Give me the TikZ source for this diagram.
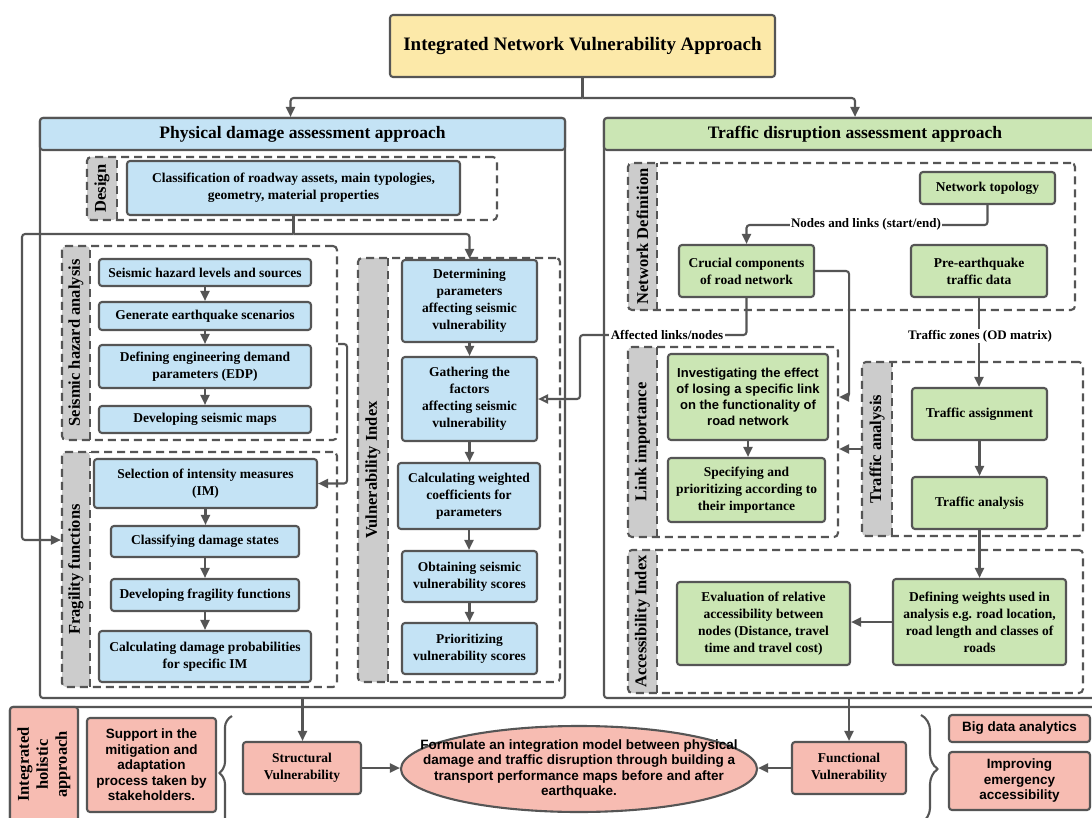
\documentclass[tikz,border=0pt]{standalone}
\usepackage{fontspec}
\setmainfont{Liberation Serif}
\setsansfont{Liberation Sans}
\usetikzlibrary{arrows.meta,positioning,decorations.pathreplacing,shapes.geometric}

\definecolor{linec}{HTML}{555555}
\definecolor{blueF}{HTML}{C4E3F5}
\definecolor{greenF}{HTML}{CBE6B4}
\definecolor{yellowF}{HTML}{FCE9A9}
\definecolor{pinkF}{HTML}{F7BCB2}
\definecolor{grayF}{HTML}{CCCCCC}

\newcommand{\titlefont}{\fontsize{19}{22}\selectfont\bfseries}
\newcommand{\headfont}{\fontsize{17.5}{20}\selectfont\bfseries}
\newcommand{\boxfont}{\fontsize{13.5}{17}\selectfont\bfseries}
\newcommand{\boxsans}{\sffamily\fontsize{13}{16}\selectfont\bfseries}
\newcommand{\botsans}{\sffamily\fontsize{13.5}{15.5}\selectfont\bfseries}
\newcommand{\stripfont}{\fontsize{16.5}{19}\selectfont\bfseries}
\newcommand{\holfont}{\fontsize{16.5}{19}\selectfont\bfseries}
\newcommand{\lblfont}{\fontsize{13}{15}\selectfont\bfseries}

\tikzset{
  box/.style={draw=linec, line width=2.1pt, rounded corners=3pt, align=center, inner sep=2pt, font=\boxfont},
  bbox/.style={box, fill=blueF},
  gbox/.style={box, fill=greenF},
  pbox/.style={box, fill=pinkF},
  panel/.style={draw=linec, line width=2.1pt, rounded corners=3pt, fill=white},
  grp/.style={draw=linec, line width=2.1pt, dash pattern=on 8pt off 5pt, rounded corners=4pt},
  dline/.style={draw=linec, line width=2.1pt, dash pattern=on 8pt off 5pt},
  strip/.style={fill=grayF, rounded corners=4pt, rotate=90, font=\stripfont, inner sep=0pt},
  lbl/.style={fill=white, inner sep=1.5pt, font=\lblfont},
  conn/.style={draw=linec, line width=2.1pt, rounded corners=3pt},
  arr/.style={conn, -{Triangle[length=10pt,width=9pt]}},
  arro/.style={conn, -{Triangle[open,length=10pt,width=9pt]}}
}

\begin{document}
\begin{tikzpicture}[x=1pt,y=-1pt]
  \useasboundingbox (0,0) rectangle (1092,818);
  \fill[white] (0,0) rectangle (1092,818);

  %TITLE
  \node[box, fill=yellowF, minimum width=385, minimum height=62, font=\titlefont] (title) at (582.5,46) {Integrated Network Vulnerability Approach};

  %PANELS
  \node[panel, minimum width=525, minimum height=580] (phys) at (302.5,408) {};
  \node[box, fill=blueF, minimum width=525, minimum height=32, anchor=north, font=\headfont] (physhead) at (phys.north) {Physical damage assessment approach};
  \node[panel, minimum width=502, minimum height=580] (traf) at (855,408) {};
  \node[box, fill=greenF, minimum width=502, minimum height=32, anchor=north, font=\headfont] (trafhead) at (traf.north) {Traffic disruption assessment approach};
  \node[panel, minimum width=1096, minimum height=115] (holgrp) at (558,764.5) {};
  \node[pbox, rotate=90, minimum width=115, minimum height=68, font=\holfont] (hollbl) at (44,764.5) {Integrated\\holistic\\approach};

  %DESIGN
  \node[strip, minimum width=63, minimum height=30] (deslbl) at (102,188.5) {Design};
  \node[grp, minimum width=410, minimum height=63] (desgrp) at (292,188.5) {};
  \node[bbox, minimum width=333, minimum height=54] (classify) at (293.5,188) {Classification of roadway assets, main typologies,\\geometry, material properties};

  %SEISMIC HAZARD
  \node[strip, minimum width=194, minimum height=28] (hazlbl) at (76,343) {Seismic hazard analysis};
  \node[grp, minimum width=275, minimum height=194] (hazgrp) at (199.5,343) {};
  \node[bbox, minimum width=212, minimum height=27] (haz1) at (205,272.5) {Seismic hazard levels and sources};
  \node[bbox, minimum width=212, minimum height=28] (haz2) at (205,316) {Generate earthquake scenarios};
  \node[bbox, minimum width=212, minimum height=43] (edp) at (205,366.5) {Defining engineering demand\\parameters (EDP)};
  \node[bbox, minimum width=212, minimum height=27] (maps) at (205,419.5) {Developing seismic maps};

  %FRAGILITY
  \node[strip, minimum width=235, minimum height=28] (fraglbl) at (76,569.5) {Fragility functions};
  \node[grp, minimum width=275, minimum height=235] (fraggrp) at (199.5,569.5) {};
  \node[bbox, minimum width=223, minimum height=49] (imsel) at (205.5,483.5) {Selection of intensity measures\\(IM)};
  \node[bbox, minimum width=188, minimum height=31] (dstate) at (205,541.5) {Classifying damage states};
  \node[bbox, minimum width=188, minimum height=32] (fragfn) at (205,595) {Developing fragility functions};
  \node[bbox, minimum width=212, minimum height=51] (dprob) at (205,656.5) {Calculating damage probabilities\\for specific IM};

  %VULNERABILITY INDEX
  \node[strip, minimum width=424, minimum height=30] (vullbl) at (373,470) {Vulnerability Index};
  \node[grp, minimum width=202, minimum height=424] (vulgrp) at (459,470) {};
  \node[bbox, minimum width=135, minimum height=82] (determ) at (469.5,301) {Determining\\parameters\\affecting seismic\\vulnerability};
  \node[bbox, minimum width=135, minimum height=84] (gather) at (469.5,399) {Gathering the\\factors\\affecting seismic\\vulnerability};
  \node[bbox, minimum width=142, minimum height=66] (weight) at (469,496) {Calculating weighted\\coefficients for\\parameters};
  \node[bbox, minimum width=135, minimum height=51] (obtain) at (469.5,576.5) {Obtaining seismic\\vulnerability scores};
  \node[bbox, minimum width=135, minimum height=51] (prior) at (469.5,648.5) {Prioritizing\\vulnerability scores};

  %NETWORK DEFINITION
  \node[strip, minimum width=147, minimum height=29] (netlbl) at (642.5,236.5) {Network Definition};
  \node[grp, minimum width=447, minimum height=147] (netgrp) at (851.5,236.5) {};
  \node[gbox, minimum width=135, minimum height=32] (topo) at (987.5,188) {Network topology};
  \node[gbox, minimum width=135, minimum height=52] (crucial) at (746.5,271) {Crucial components\\of road network};
  \node[gbox, minimum width=136, minimum height=52] (pre) at (979,271) {Pre-earthquake\\traffic data};

  %LINK IMPORTANCE
  \node[strip, minimum width=190, minimum height=29] (linklbl) at (642.5,442) {Link importance};
  \node[grp, minimum width=210, minimum height=190] (linkgrp) at (733,442) {};
  \node[gbox, font=\boxsans, minimum width=160, minimum height=86] (invest) at (748,397) {Investigating the effect\\of losing a specific link\\on the functionality of\\road network};
  \node[gbox, minimum width=157, minimum height=64] (specify) at (746.5,490) {Specifying and\\prioritizing according to\\their importance};

  %TRAFFIC ANALYSIS
  \node[strip, minimum width=174, minimum height=30] (tralbl) at (877,449) {Traffic analysis};
  \node[grp, minimum width=221, minimum height=174] (tragrp) at (972.5,449) {};
  \node[gbox, minimum width=135, minimum height=52] (tassign) at (979.5,414) {Traffic assignment};
  \node[gbox, minimum width=135, minimum height=52] (tanal) at (979.5,503) {Traffic analysis};

  %ACCESSIBILITY INDEX
  \node[strip, minimum width=143, minimum height=29] (acclbl) at (642.5,621.5) {Accessibility Index};
  \node[grp, minimum width=455, minimum height=143] (accgrp) at (855.5,621.5) {};
  \node[gbox, minimum width=173, minimum height=83] (evalacc) at (763.5,623.5) {Evaluation of relative\\accessibility between\\nodes (Distance, travel\\time and travel cost)};
  \node[gbox, minimum width=173, minimum height=86] (defw) at (979.5,622) {Defining weights used in\\analysis e.g. road location,\\road length and classes of\\roads};

  \foreach \s in {deslbl,hazlbl,fraglbl,vullbl,netlbl,linklbl,tralbl,acclbl}
    \draw[dline] (\s.south west) -- (\s.south east);

  %INTEGRATED HOLISTIC APPROACH
  \node[pbox, font=\botsans, minimum width=129, minimum height=94] (support) at (151.5,765) {Support in the\\mitigation and\\adaptation\\process taken by\\stakeholders.};
  \node[pbox, minimum width=118, minimum height=52] (struct) at (302,768) {Structural\\Vulnerability};
  \node[pbox, ellipse, minimum width=356, minimum height=86] (formul) at (579,769) {};
  \node[font=\botsans, align=center] (formultxt) at (formul.center) {Formulate an integration model between physical\\damage and traffic disruption through building a\\transport performance maps before and after\\earthquake.};
  \node[pbox, minimum width=114, minimum height=52] (func) at (849,768) {Functional\\Vulnerability};
  \node[pbox, font=\botsans, minimum width=141, minimum height=27] (bigdata) at (1019.5,728.5) {Big data analytics};
  \node[pbox, font=\botsans, minimum width=141, minimum height=58] (improve) at (1019.5,781) {Improving\\emergency\\accessibility};

  \draw[conn, decorate, decoration={brace, amplitude=14pt}] (232,830) -- (232,716);
  \draw[conn, decorate, decoration={brace, amplitude=18pt}] (921,715) -- (921,823);

  %CONNECTORS
  \draw[conn] (title.south) -- ++(0,20) coordinate (tsplit);
  \draw[arr] (tsplit) -| ([xshift=-12pt]phys.north);
  \draw[arr] (tsplit) -| (traf.north);

  \draw[conn] (classify.south) -- ++(0,18) coordinate (dsplit);
  \coordinate (lbend) at (22,540);
  \draw[arr] (dsplit) -| (lbend) -- (fraggrp.west |- lbend);
  \draw[arr] (dsplit) -| (determ.north);

  \foreach \a/\b in {haz1/haz2, haz2/edp, edp/maps, imsel/dstate, dstate/fragfn, fragfn/dprob,
                     determ/gather, gather/weight, weight/obtain, obtain/prior,
                     invest/specify, tassign/tanal, tanal/defw}
    \draw[arr] (\a.south) -- (\a.south |- \b.north);

  \draw[arr] (hazgrp.east |- edp.north) -- ++(9,0) |- (imsel.east);

  \draw[arr] (topo.south) -- ++(0,20) -| (crucial.north);
  \node[lbl] (nllbl) at (866,224) {Nodes and links (start/end)};

  \draw[arr] (crucial.east) -- ++(34,0) |- (linkgrp.east |- invest.east);

  \coordinate (affbend) at (580,335);
  \draw[arro] (crucial.south) |- (affbend) |- (gather.east);
  \node[lbl] (afflbl) at (667,335) {Affected links/nodes};

  \draw[arr] (pre.south) -- (pre.south |- tassign.north);
  \node[lbl] (odlbl) at (980,336) {Traffic zones (OD matrix)};

  \draw[arr] (tragrp.west) -- (linkgrp.east |- tragrp.west);
  \draw[arr] (defw.west) -- (evalacc.east |- defw.west);

  \draw[arr] (phys.south) -- (phys.south |- struct.north);
  \draw[arr] (func.north |- traf.south) -- (func.north);
  \draw[arr] (struct.east) -- (struct.east -| formul.west);
  \draw[arr] (func.west) -- (func.west -| formul.east);

\end{tikzpicture}
\end{document}
